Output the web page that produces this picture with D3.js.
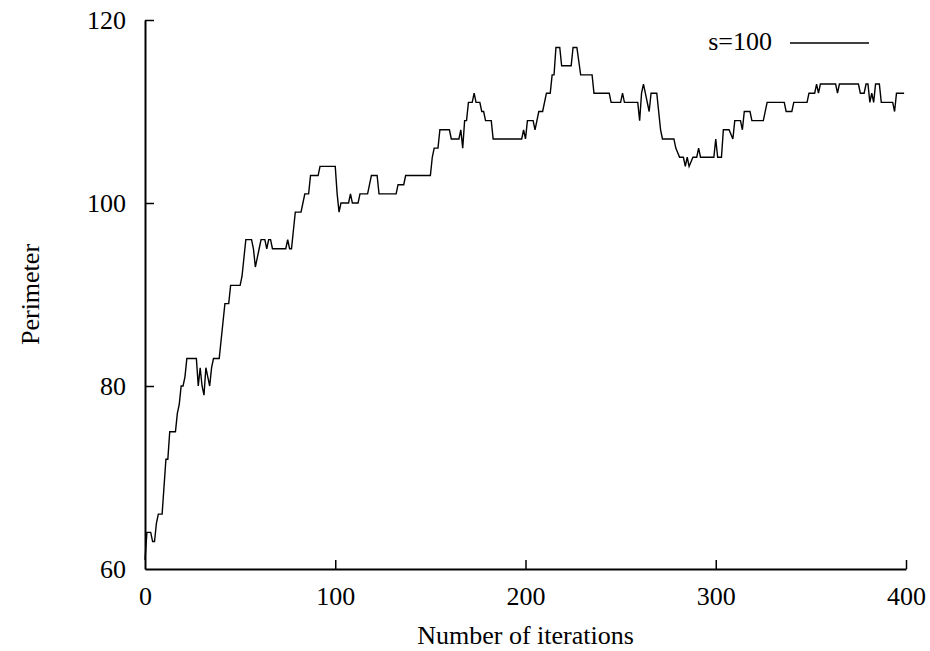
<!DOCTYPE html>
<html>
<head>
<meta charset="utf-8">
<script src="https://cdn.jsdelivr.net/npm/d3@7"></script>
<style>
  html, body { margin: 0; padding: 0; background: #fff; }
  svg { display: block; font-family: "Liberation Serif", "Times New Roman", serif; }
</style>
</head>
<body>
<svg id="chart" width="930" height="651"></svg>
<script>
// iteration index where the value changes (points of the plotted line)
var iterations = [
  0, 1, 3, 4, 5, 6, 7, 9, 10, 11,
  12, 13, 16, 17, 18, 19, 20, 21, 22, 27,
  28, 29, 30, 31, 32, 33, 34, 35, 36, 39,
  40, 41, 42, 44, 45, 50, 51, 53, 56, 57,
  58, 59, 60, 61, 63, 64, 65, 66, 67, 74,
  75, 76, 77, 78, 79, 82, 83, 84, 86, 87,
  91, 92, 100, 101, 102, 103, 107, 108, 109, 112,
  113, 117, 118, 119, 122, 123, 132, 133, 136, 137,
  150, 151, 152, 154, 155, 160, 161, 165, 166, 167,
  168, 169, 170, 172, 173, 174, 176, 177, 178, 179,
  182, 183, 198, 199, 200, 201, 204, 205, 207, 209,
  211, 213, 214, 215, 216, 218, 219, 224, 225, 227,
  229, 235, 236, 244, 245, 250, 251, 252, 259, 260,
  261, 262, 263, 265, 266, 269, 270, 271, 272, 278,
  279, 281, 283, 284, 285, 286, 288, 290, 291, 292,
  299, 300, 301, 303, 304, 307, 309, 310, 313, 314,
  315, 318, 319, 325, 327, 336, 337, 340, 341, 348,
  349, 352, 353, 354, 355, 363, 364, 365, 375, 376,
  378, 379, 380, 381, 382, 383, 384, 386, 387, 393,
  394, 395, 399
];
var perimeter = [
  61, 64, 64, 63, 63, 65, 66, 66, 69, 72,
  72, 75, 75, 77, 78, 80, 80, 81, 83, 83,
  80, 82, 80, 79, 82, 81, 80, 82, 83, 83,
  85, 87, 89, 89, 91, 91, 92, 96, 96, 95,
  93, 94, 95, 96, 96, 95, 96, 96, 95, 95,
  96, 95, 95, 97, 99, 99, 100, 101, 101, 103,
  103, 104, 104, 101, 99, 100, 100, 101, 100, 100,
  101, 101, 102, 103, 103, 101, 101, 102, 102, 103,
  103, 105, 106, 106, 108, 108, 107, 107, 108, 106,
  109, 109, 111, 111, 112, 111, 111, 110, 110, 109,
  109, 107, 107, 108, 107, 109, 109, 108, 110, 110,
  112, 112, 114, 114, 117, 117, 115, 115, 117, 117,
  114, 114, 112, 112, 111, 111, 112, 111, 111, 109,
  112, 113, 112, 110, 112, 112, 110, 108, 107, 107,
  106, 105, 105, 104, 105, 104, 105, 105, 106, 105,
  105, 107, 105, 105, 108, 108, 107, 109, 109, 108,
  110, 110, 109, 109, 111, 111, 110, 110, 111, 111,
  112, 112, 113, 112, 113, 113, 112, 113, 113, 112,
  112, 113, 113, 111, 112, 111, 113, 113, 111, 111,
  110, 112, 112
];
var xTicks = [0, 100, 200, 300, 400];
var yTicks = [60, 80, 100, 120];
var seriesName = "s=100";

var svg = d3.select("#chart");
var fontSize = 26;

var x = d3.scaleLinear().domain([0, 400]).range([145, 906]);
var y = d3.scaleLinear().domain([60, 120]).range([569, 20]);

// axes (ticks pointing inward, no top/right border)
var gx = svg.append("g")
  .attr("transform", "translate(0," + y(60) + ")")
  .call(d3.axisBottom(x).tickValues(xTicks).tickSizeInner(-9).tickSizeOuter(0).tickPadding(18));
var gy = svg.append("g")
  .attr("transform", "translate(" + x(0) + ",0)")
  .call(d3.axisLeft(y).tickValues(yTicks).tickSizeInner(-9).tickSizeOuter(0).tickPadding(19));

[gx, gy].forEach(function (g) {
  g.attr("font-family", null).attr("font-size", fontSize);
  g.select(".domain").attr("stroke", "#000").attr("stroke-width", 2);
  g.selectAll(".tick line").attr("stroke", "#000").attr("stroke-width", 1.5);
  g.selectAll(".tick text").attr("fill", "#000");
});
// hide the zero-length ticks sitting on the other axis
gx.selectAll(".tick").filter(function (d) { return d === 0; }).select("line").remove();
gy.selectAll(".tick").filter(function (d) { return d === 60; }).select("line").remove();

// axis titles
svg.append("text")
  .attr("x", (x(0) + x(400)) / 2)
  .attr("y", 644)
  .attr("text-anchor", "middle")
  .attr("font-size", fontSize)
  .text("Number of iterations");

svg.append("text")
  .attr("transform", "translate(39," + (y(60) + y(120)) / 2 + ") rotate(-90)")
  .attr("text-anchor", "middle")
  .attr("font-size", fontSize)
  .text("Perimeter");

// data line
var pts = iterations.map(function (it, i) { return [it, perimeter[i]]; });
var line = d3.line()
  .x(function (d) { return x(d[0]); })
  .y(function (d) { return y(d[1]); });

svg.append("path")
  .datum(pts)
  .attr("d", line)
  .attr("fill", "none")
  .attr("stroke", "#000")
  .attr("stroke-width", 1.4)
  .attr("stroke-linejoin", "miter");

// legend
svg.append("text")
  .attr("x", 772)
  .attr("y", 50)
  .attr("text-anchor", "end")
  .attr("font-size", fontSize)
  .text(seriesName);
svg.append("line")
  .attr("x1", 790).attr("x2", 869)
  .attr("y1", 43).attr("y2", 43)
  .attr("stroke", "#000")
  .attr("stroke-width", 1.4);
</script>
</body>
</html>
